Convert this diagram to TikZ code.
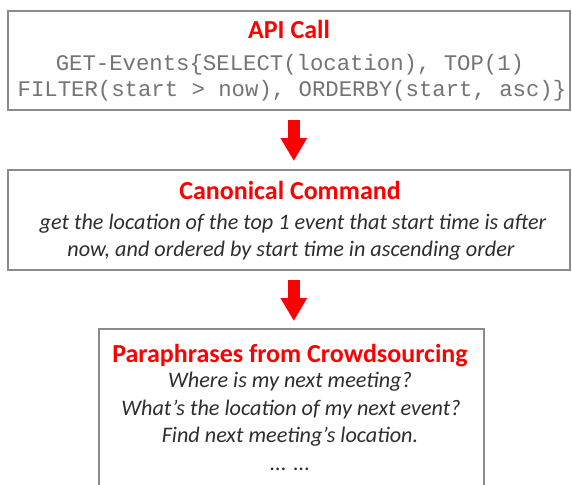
\documentclass[tikz,border=0pt]{standalone}
\usepackage{fontspec}
\setmainfont{Carlito}
\setmonofont{Liberation Mono}
\usetikzlibrary{arrows.meta}
\definecolor{boxgray}{HTML}{8A8A8A}
\definecolor{codegray}{HTML}{747474}
\definecolor{txtgray}{HTML}{2E2E2E}
\begin{document}
\begin{tikzpicture}[x=1pt,y=-1pt,
  box/.style={draw=boxgray, line width=1.6pt, fill=white, inner sep=0pt, anchor=north west},
  title/.style={text=red, font=\fontsize{26}{30}\selectfont\bfseries, anchor=base, inner sep=0pt},
  code/.style={text=codegray, font=\fontsize{22.3}{26}\selectfont\ttfamily, anchor=base, inner sep=0pt},
  body/.style={text=txtgray, font=\fontsize{22.2}{26}\selectfont\itshape, anchor=base, inner sep=0pt},
  flow/.style={draw=red, line width=12pt, -{Triangle[width=25pt,length=23pt]}}]
\useasboundingbox (0,0) rectangle (572,484);
\clip (0,0) rectangle (572,484);
\fill[white] (0,0) rectangle (572,484);

\node[box, minimum width=562pt, minimum height=99pt] (api) at (7,10) {};
\node[box, minimum width=562pt, minimum height=100pt] (canon) at (7,169) {};
\node[box, minimum width=385pt, minimum height=200pt] (para) at (98,328) {};

\node[title] (t1) at (289,39) {API Call};
\node[code] (c1) at (290,71) {GET-Events\{SELECT(location), TOP(1)};
\node[code] (c2) at (292,97) {FILTER(start > now), ORDERBY(start, asc)\}};

\node[title] (t2) at (290,199) {Canonical Command};
\node[body] (b1) at (293,229) {get the location of the top 1 event that start time is after};
\node[body] (b2) at (291,256) {now, and ordered by start time in ascending order};

\node[title] (t3) at (290,362) {Paraphrases from Crowdsourcing};
\node[body] (p1) at (290,387) {Where is my next meeting?};
\node[body] (p2) at (291,415) {What’s the location of my next event?};
\node[body] (p3) at (290,442) {Find next meeting’s location.};
\node[body] (p4) at (290,470) {... ...};

\draw[flow] ([xshift=5pt,yshift=-9pt]api.south) -- ([xshift=5pt,yshift=8pt]canon.north);
\draw[flow] ([xshift=5pt,yshift=-9pt]canon.south) -- ([xshift=2.5pt,yshift=7pt]para.north);
\end{tikzpicture}
\end{document}
